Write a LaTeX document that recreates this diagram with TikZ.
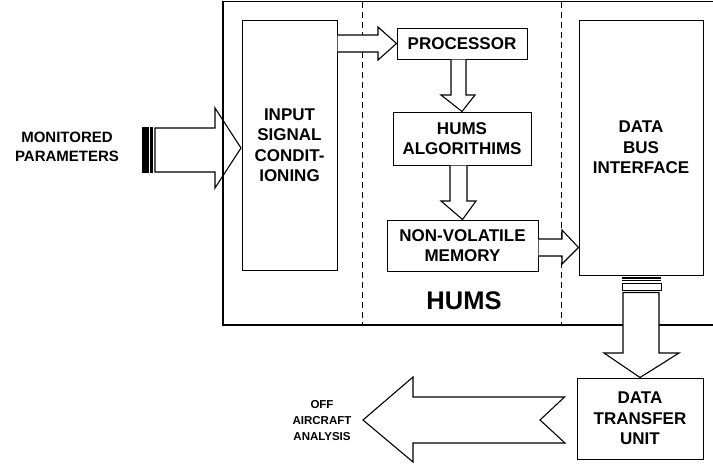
\documentclass[tikz,border=0pt]{standalone}
\usepackage{fontspec}
\setmainfont{Liberation Sans}
\usetikzlibrary{calc}
\begin{document}
\begin{tikzpicture}[x=1pt,y=-1pt,
  box/.style={draw,line width=1pt,fill=white,inner sep=0pt,align=center,
    font=\bfseries\fontsize{17}{20.5}\selectfont},
  blockarrow/.style={draw,line width=1.1pt,fill=white,line join=miter},
  sidelabel/.style={align=center,inner sep=0pt},
  divider/.style={line width=1pt,dash pattern=on 6pt off 4pt}]
\useasboundingbox (0,0) rectangle (713,469);
\begin{scope}
\clip (0,0) rectangle (713,469);

% incoming parameter arrow with its connector plug
\node[sidelabel,font=\bfseries\fontsize{15}{19}\selectfont] (mon) at (67,147) {MONITORED\\PARAMETERS};
\coordinate (plug) at (142,150);
\fill ($(plug)+(0,-23)$) rectangle ($(plug)+(6.5,23)$);
\fill ($(plug)+(8,-23)$) rectangle ($(plug)+(10.5,23)$);
\draw[blockarrow] ($(plug)+(13,-22)$) -- (215,128) -- (215,108) -- (241,148)
  -- (215,188) -- (215,172) -- ($(plug)+(13,22)$) -- cycle;

% HUMS enclosure and its dashed sections
\draw[line width=1.3pt] (760,1.5) -- (223,1.5) -- (223,325) -- (760,325);
\draw[divider] (362,2) -- (362,324);
\draw[divider] (561,2) -- (561,324);
\node[font=\bfseries\fontsize{25.5}{28}\selectfont,inner sep=0pt] (hums) at (464,301) {HUMS};

% functional blocks
\node[box,minimum width=95pt,minimum height=250pt] (inp) at (289.5,145) {INPUT\\SIGNAL\\CONDIT-\\IONING};
\node[box,minimum width=130pt,minimum height=31pt] (proc) at (462,43.5) {PROCESSOR};
\node[box,minimum width=138pt,minimum height=53pt] (alg) at (462,138.5) {HUMS\\ALGORITHIMS};
\node[box,minimum width=151pt,minimum height=51pt] (mem) at (462.5,245.5) {NON-VOLATILE\\MEMORY};
\node[box,minimum width=124pt,minimum height=255pt] (bus) at (641,147.5) {DATA\\BUS\\INTERFACE};
\node[box,minimum width=126pt,minimum height=81pt] (dtu) at (640,418.5) {DATA\\TRANSFER\\UNIT};

% input conditioning -> processor
\draw[blockarrow] (inp.east |- 0,35) -- (378,35) -- (378,27) -- (proc.west)
  -- (378,60) -- (378,52) -- (inp.east |- 0,52);

% processor -> algorithms
\draw[blockarrow] (451,0 |- proc.south) -- (451,95) -- (441,95) -- (alg.north)
  -- (475,95) -- (466,95) -- (466,0 |- proc.south);

% algorithms -> memory
\draw[blockarrow] (450,0 |- alg.south) -- (450,201) -- (441,201) -- (mem.north)
  -- (476,201) -- (467,201) -- (467,0 |- alg.south);

% memory -> data bus interface
\draw[blockarrow] (mem.east |- 0,239) -- (562,239) -- (562,230) -- (bus.west |- 0,247.5)
  -- (562,264) -- (562,256) -- (mem.east |- 0,256);

% data bus plug and arrow down to the transfer unit
\coordinate (busplug) at (bus.south);
\fill (622,276.5) rectangle (661,278.8);
\draw[line width=1pt] (622,280.8) -- (661,280.8);
\draw[line width=1pt] (622,283.5) rectangle (661,290.5);
\draw[blockarrow] (623,292.5) -- (623,353) -- (604,353) -- (dtu.north)
  -- (679,353) -- (659,353) -- (659,292.5) -- cycle;

% transfer unit -> off aircraft analysis
\draw[blockarrow] (dtu.west |- 0,397) ++(-12,0) coordinate (tailtop) -- (413,397) -- (413,377)
  -- (363,420) coordinate (tip) -- (413,462) -- (413,443) -- (565,443) -- (540,420) -- cycle;
\node[sidelabel,font=\bfseries\fontsize{11.5}{16}\selectfont] (off) at (322,421) {OFF\\AIRCRAFT\\ANALYSIS};
\end{scope}
\end{tikzpicture}
\end{document}
